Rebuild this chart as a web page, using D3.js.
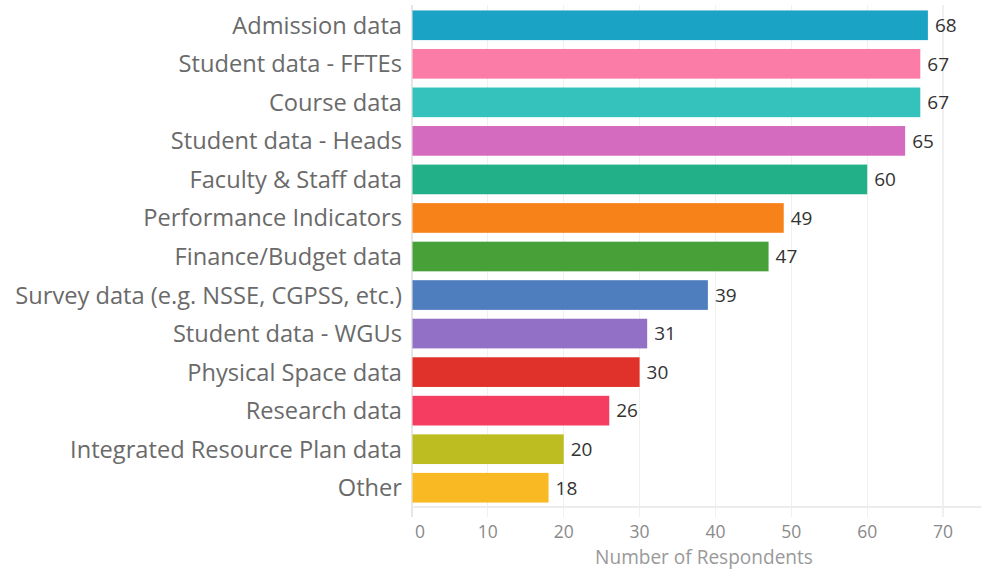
<!DOCTYPE html>
<html>
<head>
<meta charset="utf-8">
<script src="https://cdn.jsdelivr.net/npm/d3@7"></script>
<style>
  html, body { margin: 0; padding: 0; background: #fff; }
  svg { display: block; }
</style>
</head>
<body>
<script>
const categories = [
  "Admission data", "Student data - FFTEs", "Course data", "Student data - Heads",
  "Faculty & Staff data", "Performance Indicators", "Finance/Budget data",
  "Survey data (e.g. NSSE, CGPSS, etc.)", "Student data - WGUs", "Physical Space data",
  "Research data", "Integrated Resource Plan data", "Other"
];
const values = [68, 67, 67, 65, 60, 49, 47, 39, 31, 30, 26, 20, 18];
const colors = [
  "#1ba3c6", "#fc7ca8", "#36c2bc", "#d56bbf", "#21b087", "#f8821a", "#47a138",
  "#4e7ebd", "#9270c6", "#e0322b", "#f53d62", "#bdbd22", "#f8b922"
];
const xTicks = [0, 10, 20, 30, 40, 50, 60, 70];
const xTitle = "Number of Respondents";

(function () {
const W = 981, H = 570;
const mLeft = 412, mRight = 981, mTop = 6, mBottom = 507;
const font = "'Open Sans', sans-serif";

const svg = d3.select("body").append("svg").attr("width", W).attr("height", H);

const x = d3.scaleLinear().domain([0, 75]).range([mLeft, mRight]);
const y = d3.scaleBand().domain(categories).range([mTop, mBottom])
  .paddingInner(0.23).paddingOuter(0.115);

// gridlines
svg.append("g").selectAll("line").data(xTicks).join("line")
  .attr("x1", d => x(d)).attr("x2", d => x(d))
  .attr("y1", 5).attr("y2", 517)
  .attr("stroke", d => d === 0 ? "#e6e6e6" : "#f0f0f0")
  .attr("stroke-width", 1.2)
  .attr("shape-rendering", "crispEdges");

// bottom axis line
svg.append("line")
  .attr("x1", mLeft).attr("x2", mRight)
  .attr("y1", mBottom).attr("y2", mBottom)
  .attr("stroke", "#ececec").attr("stroke-width", 1.5)
  .attr("shape-rendering", "crispEdges");

// bars
svg.append("g").selectAll("rect").data(categories).join("rect")
  .attr("x", x(0) + 0.5)
  .attr("y", d => y(d))
  .attr("width", (d, i) => x(values[i]) - x(0) - 0.5)
  .attr("height", y.bandwidth())
  .attr("fill", (d, i) => colors[i]);

// value labels
svg.append("g").selectAll("text").data(categories).join("text")
  .attr("x", (d, i) => x(values[i]) + 7)
  .attr("y", d => y(d) + y.bandwidth() / 2)
  .attr("dy", "0.36em")
  .attr("font-family", font)
  .attr("font-size", 19)
  .attr("fill", "#333")
  .text((d, i) => values[i]);

// category labels
const catText = svg.append("g").selectAll("text").data(categories).join("text")
  .attr("x", mLeft - 10)
  .attr("y", d => y(d) + y.bandwidth() / 2)
  .attr("dy", "0.36em")
  .attr("text-anchor", "end")
  .attr("font-family", font)
  .attr("font-size", 20)
  .attr("fill", "#6a6a6a")
  .text(d => d);
// fit longest label to the reference width
const longest = catText.filter(d => d.startsWith("Survey")).node();
const wl = longest.getComputedTextLength();
catText.attr("font-size", 20 * 387 / wl);

// tick labels
svg.append("g").selectAll("text").data(xTicks).join("text")
  .attr("x", d => d === 0 ? x(d) + 8 : x(d))
  .attr("y", 532)
  .attr("dy", "0.36em")
  .attr("text-anchor", "middle")
  .attr("font-family", font)
  .attr("font-size", 17.5)
  .attr("fill", "#8a8a8a")
  .text(d => d);

// axis title
const title = svg.append("text")
  .attr("x", 704).attr("y", 557)
  .attr("dy", "0.36em")
  .attr("text-anchor", "middle")
  .attr("font-family", font)
  .attr("font-size", 17)
  .attr("fill", "#999")
  .text(xTitle);
const wt = title.node().getComputedTextLength();
title.attr("font-size", 17 * 218 / wt);
})();
</script>
</body>
</html>
